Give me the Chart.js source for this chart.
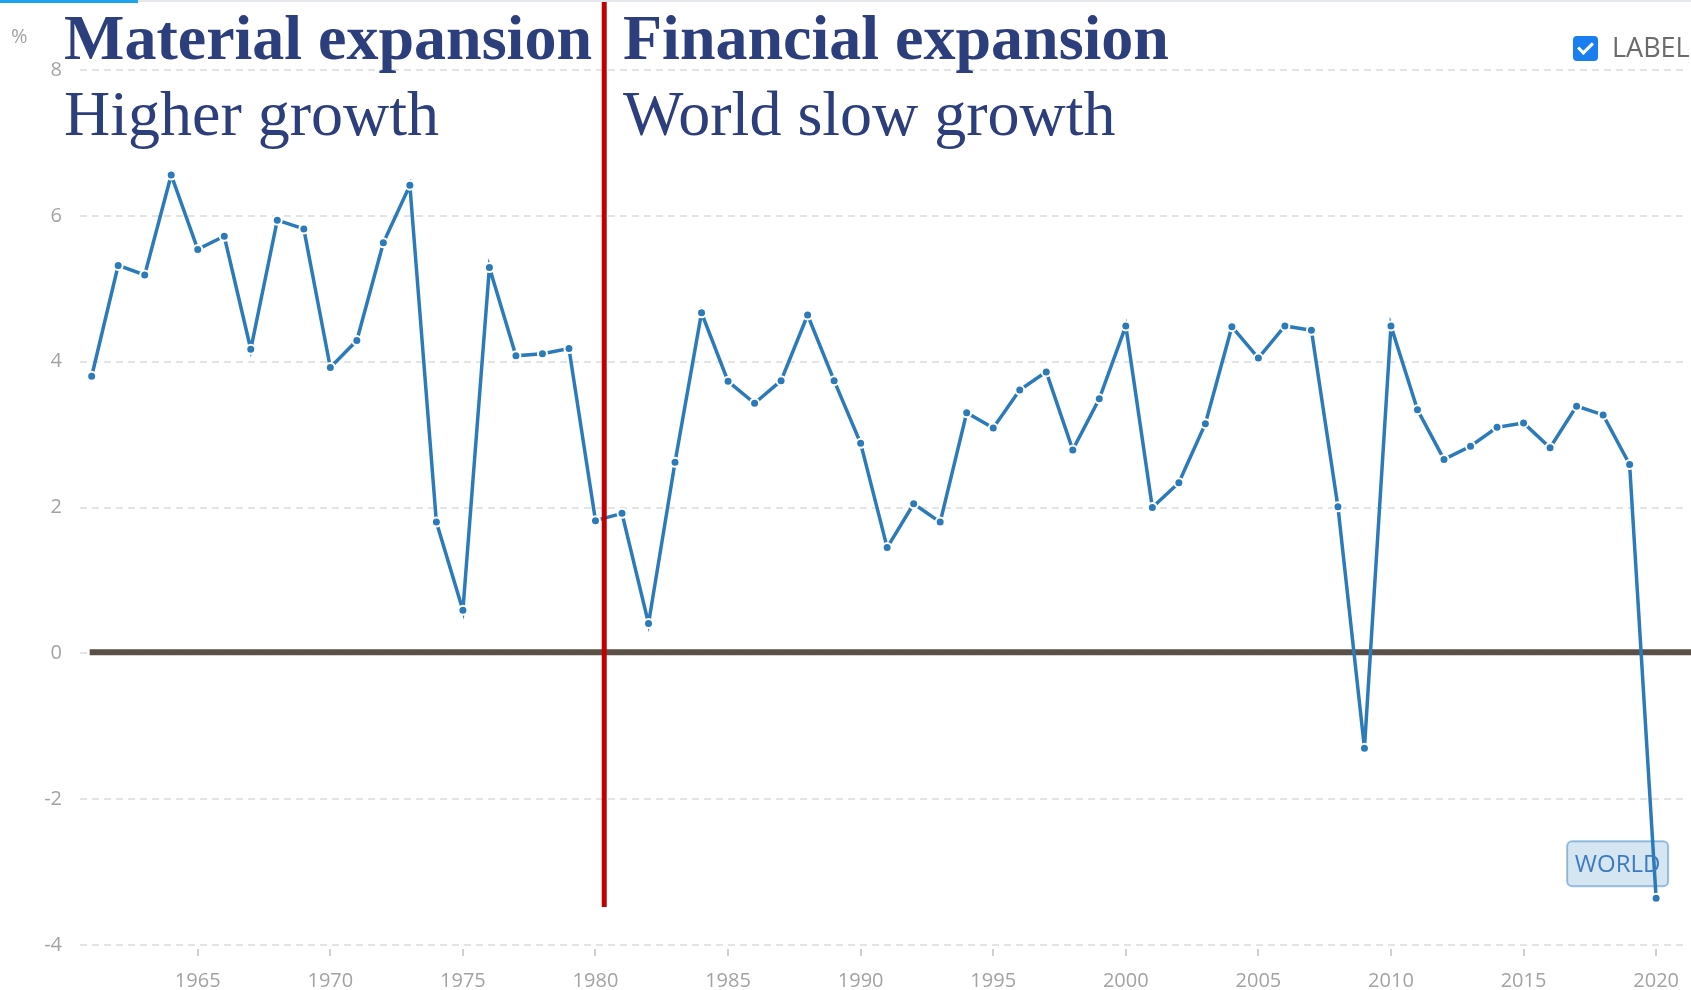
<!DOCTYPE html>
<html>
<head>
<meta charset="utf-8">
<script src="https://cdn.jsdelivr.net/npm/chart.js@4/dist/chart.umd.min.js"></script>
<style>
body{margin:0;background:#fff;overflow:hidden;}
#wrap{position:relative;width:1691px;height:990px;}
#c{position:absolute;left:0;top:0;}
.topline{position:absolute;left:0;top:0;width:1691px;height:2px;background:#e4e8ea;}
.topbar{position:absolute;left:0;top:0;width:138px;height:3px;background:#1fa3ec;}
.head{position:absolute;font-family:"Liberation Serif","Times New Roman",serif;font-size:64px;line-height:64px;color:#2c3e7b;white-space:nowrap;}
.b{font-weight:bold;}
.pct{position:absolute;left:11px;top:22px;font-family:"Open Sans",sans-serif;font-size:20px;color:#a3a3a3;}
.chk{position:absolute;left:1573px;top:36px;width:25px;height:25px;border-radius:4px;background:#1a7df0;}
.chk:after{content:"";position:absolute;left:8px;top:3px;width:6px;height:12px;border:solid #fff;border-width:0 3px 3px 0;transform:rotate(45deg);}
.lbl{position:absolute;left:1612px;top:28px;font-family:"Open Sans",sans-serif;font-size:27px;color:#6b6b6b;white-space:nowrap;}
</style>
</head>
<body>
<div id="wrap">
<canvas id="c" width="1691" height="990"></canvas>
<div class="topline"></div>
<div class="topbar"></div>
<div class="pct">%</div>
<div class="head b" style="left:64px;top:6px;">Material expansion</div>
<div class="head" style="left:64px;top:82px;">Higher growth</div>
<div class="head b" style="left:623px;top:6px;">Financial expansion</div>
<div class="head" style="left:623px;top:82px;">World slow growth</div>
<div class="chk"></div>
<div class="lbl">LABEL</div>
</div>
<script>
// ===== DATOS =====
const years=[1961,1962,1963,1964,1965,1966,1967,1968,1969,1970,
 1971,1972,1973,1974,1975,1976,1977,1978,1979,1980,
 1981,1982,1983,1984,1985,1986,1987,1988,1989,1990,
 1991,1992,1993,1994,1995,1996,1997,1998,1999,2000,
 2001,2002,2003,2004,2005,2006,2007,2008,2009,2010,
 2011,2012,2013,2014,2015,2016,2017,2018,2019,2020];
const growth=[3.80,5.32,5.19,6.56,5.54,5.72,4.17,5.94,5.82,3.92,
 4.29,5.63,6.42,1.80,0.59,5.29,4.08,4.11,4.18,1.82,
 1.92,0.41,2.62,4.67,3.73,3.43,3.74,4.64,3.74,2.88,
 1.45,2.05,1.80,3.30,3.09,3.61,3.86,2.79,3.49,4.49,
 2.00,2.34,3.15,4.48,4.05,4.49,4.43,2.01,-1.30,4.49,
 3.34,2.66,2.84,3.10,3.16,2.82,3.39,3.27,2.59,-3.36];
const xTicks=[1965,1970,1975,1980,1985,1990,1995,2000,2005,2010,2015,2020];
const yTicks=[-4,-2,0,2,4,6,8];
const seriesName="WORLD";
const splitYear=1980.33;

// ===== DIBUJO EXTRA =====
const extras={
 id:"extras",
 beforeDatasetsDraw(ch){
  const c=ch.ctx,x=ch.scales.x,y=ch.scales.y,a=ch.chartArea;
  c.save();
  // marcas del eje x
  c.strokeStyle="#cfcfcf";c.lineWidth=2;
  xTicks.forEach(t=>{
   const px=Math.round(x.getPixelForValue(t));
   c.beginPath();c.moveTo(px,a.bottom+4);c.lineTo(px,a.bottom+11);c.stroke();
  });
  // linea cero
  const y0=y.getPixelForValue(0)-1;
  c.strokeStyle="#5a5048";c.lineWidth=6;
  c.beginPath();c.moveTo(x.getPixelForValue(years[0])-2,y0);c.lineTo(ch.width,y0);c.stroke();
  c.restore();
 },
 afterDatasetsDraw(ch){
  const c=ch.ctx,x=ch.scales.x,y=ch.scales.y;
  c.save();
  // linea roja
  const rx=x.getPixelForValue(splitYear);
  c.strokeStyle="#c00000";c.lineWidth=5;
  c.beginPath();c.moveTo(rx,0);c.lineTo(rx,y.getPixelForValue(-3.48));c.stroke();
  // etiqueta WORLD
  const i=years.length-1;
  const px=x.getPixelForValue(years[i]),py=y.getPixelForValue(growth[i]);
  const w=101,h=45,r=5,bx=px+12-w,by=py-12-h;
  c.beginPath();
  c.roundRect(bx,by,w,h,r);
  c.fillStyle="rgba(43,123,186,0.2)";c.fill();
  c.strokeStyle="rgba(43,123,186,0.45)";c.lineWidth=2;c.stroke();
  c.fillStyle="#3b7cc0";c.font="24px 'Open Sans'";
  c.textAlign="center";c.textBaseline="middle";
  c.fillText(seriesName,bx+w/2,by+h/2+1);
  c.restore();
 }
};

new Chart(document.getElementById("c"),{
 type:"line",
 data:{datasets:[{
  label:seriesName,
  data:years.map((yr,i)=>({x:yr,y:growth[i]})),
  borderColor:"#2b7bba",borderWidth:3.5,
  pointRadius:4.5,pointBackgroundColor:"#2b7bba",
  pointBorderColor:"#fff",pointBorderWidth:2,
  tension:0,fill:false
 }]},
 options:{
  responsive:false,animation:false,
  layout:{padding:{top:70,left:0,right:0,bottom:0}},
  plugins:{legend:{display:false},tooltip:{enabled:false}},
  scales:{
   x:{type:"linear",min:1960.56,max:2021.07,
    afterBuildTicks:s=>{s.ticks=xTicks.map(v=>({value:v}));},
    afterFit:s=>{s.height=45;s.paddingLeft=0;s.paddingRight=0;},
    grid:{display:false},border:{display:false},
    ticks:{padding:16,maxRotation:0,autoSkip:false,color:"#a3a3a3",
     font:{family:"'Open Sans'",size:20},callback:v=>String(v)}
   },
   y:{min:-4,max:8,
    afterBuildTicks:s=>{s.ticks=yTicks.map(v=>({value:v}));},
    afterFit:s=>{s.width=80;},
    border:{display:false,dash:[7,5]},
    grid:{color:"#e4e4e4",lineWidth:2,drawTicks:false,tickLength:0},
    ticks:{padding:18,color:"#a3a3a3",font:{family:"'Open Sans'",size:20}}
   }
  }
 },
 plugins:[extras]
});
</script>
</body>
</html>
